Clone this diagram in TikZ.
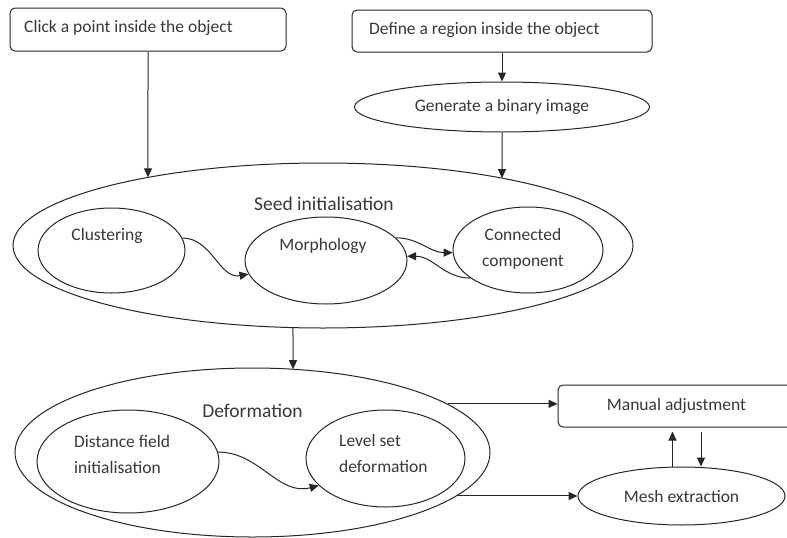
\documentclass[tikz,border=0pt]{standalone}
\usepackage{fontspec}
\setmainfont{Carlito}
\usetikzlibrary{shapes.geometric,arrows.meta,calc,intersections}
\tikzset{
  txt/.style={text=black!78, font=\fontsize{17.5}{25.5}\selectfont, inner sep=0pt},
  head/.style={text=black!78, font=\fontsize{19.5}{23}\selectfont, inner sep=0pt},
  rbox/.style={draw=black!85, line width=1pt, rounded corners=5pt, rectangle, inner sep=0pt},
  ell/.style={draw=black!85, line width=1pt, ellipse, inner sep=0pt},
  arr/.style={draw=black!85, line width=1pt, -{Triangle[length=9pt,width=8pt]}},
}
\begin{document}
\begin{tikzpicture}[x=1pt,y=-1pt]
\useasboundingbox (0,0) rectangle (787,538);
% top boxes
\node[rbox, minimum width=276pt, minimum height=43pt] (b1) at (148,29.5) {};
\node[txt, anchor=west] (b1lbl) at (24,28) {Click a point inside the object};
\node[rbox, minimum width=300pt, minimum height=42pt] (b2) at (502,31) {};
\node[txt, anchor=west] (b2lbl) at (369,30) {Define a region inside the object};
\node[ell, minimum width=295pt, minimum height=50pt, txt] (binary) at (502,107) {Generate a binary image};
% seed initialisation
\node[ell, name path=seedp, minimum width=620pt, minimum height=165pt] (seed) at (323,245.5) {};
\node[head] (seedlbl) at (324,204) {Seed initialisation};
\node[ell, minimum width=147pt, minimum height=85pt] (clus) at (111.5,250.5) {};
\node[txt] (cluslbl) at (107,236) {Clustering};
\node[ell, minimum width=162pt, minimum height=87pt] (morph) at (326,260.5) {};
\node[txt] (morphlbl) at (323,246) {Morphology};
\node[ell, minimum width=150pt, minimum height=86pt] (conn) at (528,250) {};
\node[txt, align=center] (connlbl) at (523,249) {Connected\\component};
% deformation
\node[ell, name path=defp, minimum width=475pt, minimum height=169pt] (def) at (252.5,452.5) {};
\node[head] (deflbl) at (252.5,411) {Deformation};
\node[ell, minimum width=182pt, minimum height=103pt] (dist) at (128,461.5) {};
\node[txt, align=left, anchor=west] (distlbl) at (74,454.5) {Distance field\\initialisation};
\node[ell, minimum width=159pt, minimum height=97pt] (level) at (385.5,458.5) {};
\node[txt, align=left, anchor=west] (levellbl) at (339,453.5) {Level set\\deformation};
% right side
\node[rbox, minimum width=237pt, minimum height=42pt, txt] (manual) at (676.5,406) {Manual adjustment};
\node[ell, minimum width=207pt, minimum height=58pt, txt] (mesh) at (681.5,496) {Mesh extraction};
% guide paths for vertical connectors
\path[name path=v1] (b1.south) -- ++(0,200);
\path[name path=v2] (binary.south) -- ++(0,150);
\path[name path=v3] ($(seed.south)+(-30,-40)$) -- ++(0,140);
\path[name intersections={of=seedp and v1, by=s1}];
\path[name intersections={of=seedp and v2, by=s2}];
\path[name intersections={of=seedp and v3, by=s3}];
\path[name intersections={of=defp and v3, by=d3}];
% connectors
\draw[arr] (b1.south) -- (s1);
\draw[arr] (b2.south) -- (binary.north);
\draw[arr] (binary.south) -- (s2);
\draw[arr] (clus.10) to[out=0, in=190] (morph.190);
\draw[arr] (morph.18) to[out=0, in=180] (conn.182);
\draw[arr] (conn.206) to[out=180, in=0] (morph.3);
\draw[arr] (s3) -- (d3);
\draw[arr] (dist.6) to[out=0, in=195] (level.202);
\draw[arr] (def.14) -- (def.14 -| manual.west);
\draw[arr] (def.-12) -- (def.-12 -| mesh.west);
\draw[arr] ($(mesh.north)+(-9,0)$) -- ($(mesh.north |- manual.south)+(-9,4)$);
\draw[arr] ($(mesh.north |- manual.south)+(19.5,4)$) -- ($(mesh.north)+(19.5,0)$);
\end{tikzpicture}
\end{document}
